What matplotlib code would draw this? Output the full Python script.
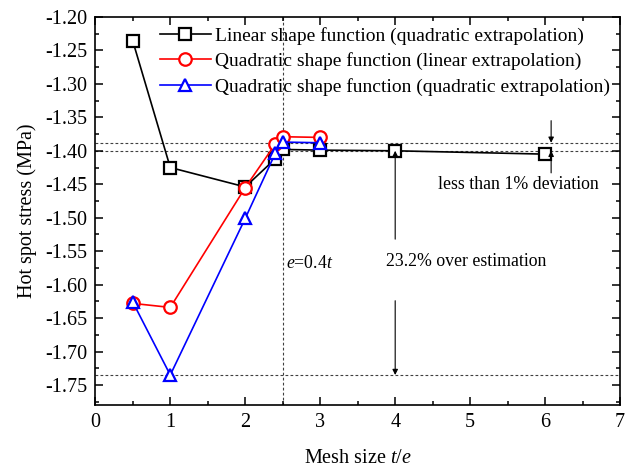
import matplotlib.pyplot as plt
from matplotlib.ticker import MultipleLocator

plt.rcParams['font.family'] = ['Liberation Serif', 'DejaVu Serif']
plt.rcParams['mathtext.fontset'] = 'custom'
plt.rcParams['mathtext.it'] = 'Liberation Serif:italic'
plt.rcParams['mathtext.rm'] = 'Liberation Serif'

# mesh size t/e and hot spot stress (MPa)
x_lin_quad = [0.5, 1, 2, 2.4, 2.5, 3, 4, 6]
y_lin_quad = [-1.236, -1.425, -1.454, -1.412, -1.398, -1.399, -1.400, -1.405]
x_quad_lin = [0.5, 1, 2, 2.4, 2.5, 3]
y_quad_lin = [-1.628, -1.634, -1.455, -1.390, -1.379, -1.380]
x_quad_quad = [0.5, 1, 2, 2.4, 2.5, 3]
y_quad_quad = [-1.626, -1.735, -1.501, -1.404, -1.387, -1.388]
labels = ['Linear shape function (quadratic extrapolation)',
          'Quadratic shape function (linear extrapolation)',
          'Quadratic shape function (quadratic extrapolation)']

# reference levels
conv_upper = -1.388
conv_lower = -1.400
coarse_min = -1.735
mesh_ref = 2.5

fig = plt.figure(figsize=(6.27, 4.70), dpi=100)
ax = fig.add_axes([0.152, 0.138, 0.837, 0.826])

dot = dict(color='0.25', lw=0.8, ls=(0, (2.5, 2)), zorder=1)
for yv in [conv_upper, conv_lower, coarse_min]:
    ax.axhline(yv, **dot)
ax.axvline(mesh_ref, **dot)

ax.plot(x_lin_quad, y_lin_quad, '-s', color='black', mfc='white', ms=8, mew=1.6, lw=1.2, label=labels[0], zorder=3)
ax.plot(x_quad_lin, y_quad_lin, '-o', color='red', mfc='white', ms=9, mew=1.6, lw=1.2, label=labels[1], zorder=4)
ax.plot(x_quad_quad, y_quad_quad, '-^', color='blue', mfc='white', ms=9, mew=1.6, lw=1.2, label=labels[2], zorder=5)

ax.set_xlim(0, 7)
ax.set_ylim(-1.78, -1.20)
ax.xaxis.set_major_locator(MultipleLocator(1))
ax.xaxis.set_minor_locator(MultipleLocator(0.5))
ax.yaxis.set_major_locator(MultipleLocator(0.05))
ax.yaxis.set_minor_locator(MultipleLocator(0.025))
ax.yaxis.set_major_formatter(plt.FormatStrFormatter('%.2f'))
ax.tick_params(which='both', direction='in', top=True, right=True, labelsize=14.5, width=1.1)
ax.tick_params(which='major', length=6, pad=6)
ax.tick_params(which='minor', length=3)
for s in ax.spines.values():
    s.set_linewidth(1.2)

ax.set_xlabel('Mesh size $t$/$e$', fontsize=14.5, labelpad=12)
ax.set_ylabel('Hot spot stress (MPa)', fontsize=14.5, labelpad=6)

# annotations
arr = dict(arrowstyle='-|>', color='black', lw=0.8, mutation_scale=8, shrinkA=0, shrinkB=0)
ax.annotate('', xy=(4, conv_lower), xytext=(4, -1.532), arrowprops=arr)
ax.annotate('', xy=(4, coarse_min), xytext=(4, -1.624), arrowprops=arr)
ax.text(3.88, -1.566, '23.2% over estimation', fontsize=12.8, va='center', ha='left')
ax.annotate('', xy=(6.08, conv_upper), xytext=(6.08, -1.355), arrowprops=arr)
ax.annotate('', xy=(6.08, conv_lower), xytext=(6.08, -1.433), arrowprops=arr)
ax.text(5.64, -1.450, 'less than 1% deviation', fontsize=12.8, va='center', ha='center')
ax.text(2.55, -1.569, '$e$=0.4$t$', fontsize=12.8, va='center', ha='left')

ax.legend(loc='upper right', frameon=False, fontsize=14, handlelength=2.6,
          borderaxespad=0.05, borderpad=0.45, labelspacing=0.4, handletextpad=0.25)

fig.savefig('out.png', dpi=100)
